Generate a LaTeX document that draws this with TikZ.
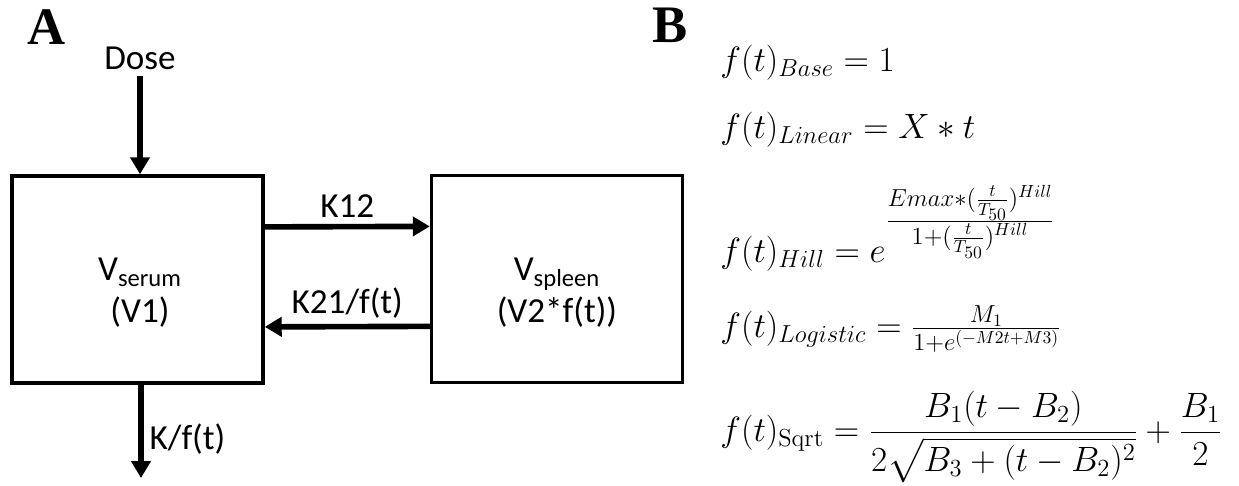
\RequirePackage{fix-cm}
\documentclass[tikz,border=0pt]{standalone}
\usepackage{amsmath}
\usepackage[no-math]{fontspec}
\setmainfont{Carlito}
\newfontfamily\panelfont{Liberation Serif}
\DeclareMathSizes{20}{20}{14}{10}
\usetikzlibrary{arrows.meta,positioning,calc}

\tikzset{
    comp/.style={draw, line width=2pt, minimum width=5.02cm, minimum height=4.14cm},
    flow/.style={line width=3.2pt, -{Triangle[length=0.34cm,width=0.38cm]}},
    lbl/.style={font=\fontsize{20}{24}\selectfont},
    panel/.style={font=\panelfont\bfseries\fontsize{30}{36}\selectfont},
    eqn/.style={anchor=base west, inner sep=0pt, font=\fontsize{20}{24}\selectfont}
}

\begin{document}
\begin{tikzpicture}[x=0.02cm, y=-0.02cm]
    \useasboundingbox (0,0) rectangle (1239,485);

    % panel A: two compartment model
    \node[panel] (labA) at (47,27) {A};
    \node[lbl] (dose) at (140,58) {Dose};
    \node[comp] (serum) at (137.5,279.5) {};
    \node[comp] (spleen) at (557,279) {};
    \node[lbl, align=center] (serumtxt) at (140,293) {V\textsubscript{serum}\\(V1)};
    \node[lbl, align=center] (spleentxt) at (557,293) {V\textsubscript{spleen}\\(V2*f(t))};
    \coordinate (out) at (141,478);

    \draw[flow] (dose.south) -- (dose.south |- serum.north);
    \draw[flow] ($(serum.north east)!.25!(serum.south east)$) -- ($(spleen.north west)!.25!(spleen.south west)$)
        node[midway, above, lbl] (k12) {K12};
    \draw[flow] ($(spleen.north west)!.725!(spleen.south west)$) -- ($(serum.north east)!.725!(serum.south east)$)
        node[midway, above, lbl] (k21) {K21/f(t)};
    \draw[flow] (out |- serum.south) -- (out) node[pos=.58, right, lbl] (kel) {K/f(t)};

    % panel B: forms of f(t)
    \node[panel] (labB) at (670,25) {B};
    \node[eqn] (fbase) at (720,71) {$f(t)_{Base} = 1$};
    \node[eqn] (flin) at (720,138) {$f(t)_{Linear} = X * t$};
    \node[eqn] (fhill) at (720,262) {$f(t)_{Hill} = e^{\frac{\scriptstyle Emax*(\frac{t}{T_{50}})^{Hill}}{\scriptstyle 1+(\frac{t}{T_{50}})^{Hill}}}$};
    \node[eqn] (flog) at (720,337) {$f(t)_{Logistic} = \frac{M_1}{1+e^{(-M2t+M3)}}$};
    \node[eqn] (fsqrt) at (720,441) {$f(t)_{\mathrm{Sqrt}} = \dfrac{B_1(t-B_2)}{2\sqrt{B_3+(t-B_2)^2}} + \dfrac{B_1}{2}$};
\end{tikzpicture}
\end{document}
